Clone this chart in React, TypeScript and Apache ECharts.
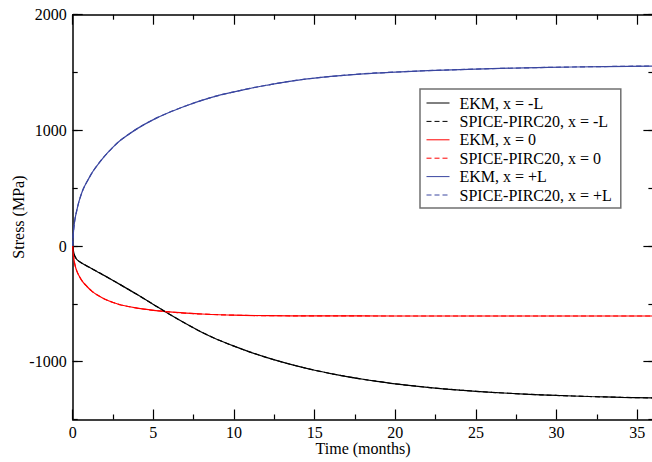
import { useEffect, useRef } from "react";
import * as echarts from "echarts";

// Time samples (months) and stress (MPa) for each probe position
const timeNeg = [0, 0.05, 0.12, 0.25, 0.5, 1, 1.5, 2, 3, 4, 5, 6, 7, 8, 9, 10, 11, 12, 13, 14, 15, 16, 17, 18, 19, 20, 22, 24, 26, 28, 30, 32, 34, 36];
const ekmNeg = [0, -45, -85, -115, -142, -182, -220, -258, -338, -420, -505, -590, -670, -745, -810, -866, -917, -963, -1004, -1041, -1074, -1103, -1129, -1152, -1172, -1192, -1222, -1246, -1265, -1280, -1292, -1301, -1308, -1313];
const spiceNeg = [0, -45, -85, -115, -142, -182, -220, -258, -338, -420, -505, -590, -670, -745, -810, -866, -917, -963, -1004, -1041, -1074, -1103, -1129, -1152, -1172, -1192, -1222, -1246, -1265, -1280, -1292, -1301, -1308, -1314];

const timeZero = [0, 0.03, 0.08, 0.15, 0.25, 0.4, 0.6, 0.9, 1.2, 1.5, 2, 2.5, 3, 4, 5, 6, 7, 8, 10, 12, 15, 20, 25, 30, 36];
const ekmZero = [0, -60, -120, -170, -215, -260, -305, -352, -392, -422, -460, -488, -510, -537, -556, -570, -580, -588, -598, -602, -604, -605, -605, -605, -605];
const spiceZero = [0, -60, -120, -170, -215, -260, -305, -352, -392, -422, -460, -488, -510, -537, -556, -570, -580, -588, -598, -602, -604, -605, -605, -605, -605];

const timePos = [0, 0.03, 0.08, 0.15, 0.25, 0.4, 0.66, 1, 1.3, 1.9, 2.5, 3, 4, 5, 6, 7, 8, 9, 10, 11, 12, 14, 16, 18, 20, 22, 25, 28, 31, 36];
const ekmPos = [0, 90, 170, 240, 305, 390, 495, 585, 655, 765, 855, 918, 1015, 1093, 1157, 1211, 1259, 1300, 1333, 1363, 1390, 1435, 1466, 1489, 1504, 1516, 1530, 1540, 1548, 1556];
const spicePos = [0, 90, 170, 240, 305, 390, 495, 585, 655, 765, 855, 918, 1015, 1093, 1157, 1211, 1259, 1300, 1333, 1363, 1390, 1435, 1466, 1489, 1504, 1516, 1530, 1540, 1548, 1557];

const seriesNames = [
  "EKM, x = -L",
  "SPICE-PIRC20, x = -L",
  "EKM, x = 0",
  "SPICE-PIRC20, x = 0",
  "EKM, x = +L",
  "SPICE-PIRC20, x = +L",
];

const yMajorTicks = [-1000, 0, 1000, 2000];

const FONT = "Liberation Serif";
const BLACK = "#000000";
const RED = "#ff0000";
const BLUE = "#3a46a0";

const pairs = (t: number[], v: number[]) => t.map((x, i) => [x, v[i]]);

export default function App() {
  const ref = useRef<HTMLDivElement>(null);

  useEffect(() => {
    if (!ref.current) return;
    const chart = echarts.init(ref.current, null, { renderer: "svg" });

    const axisLine = { onZero: false, lineStyle: { color: BLACK, width: 1.5 } };
    const tickLine = { color: BLACK, width: 1.2 };
    const labelStyle = { fontFamily: FONT, fontSize: 16, color: BLACK };

    const xBase = (position: "top" | "bottom", showLabel: boolean) => ({
      type: "value" as const,
      position,
      min: 0,
      max: 36,
      interval: 5,
      axisLine,
      axisTick: { inside: true, length: 10, lineStyle: tickLine },
      minorTick: { show: true, splitNumber: 2, length: 5, lineStyle: tickLine },
      splitLine: { show: false },
      minorSplitLine: { show: false },
      axisLabel: {
        show: showLabel,
        margin: 5,
        ...labelStyle,
        formatter: (v: number) => (v > 35 ? "" : String(v)),
      },
    });

    const yMinor = (position: "left" | "right", showLabel: boolean) => ({
      type: "value" as const,
      position,
      min: -1500,
      max: 2000,
      interval: 500,
      axisLine,
      axisTick: { inside: true, length: 5, lineStyle: tickLine },
      splitLine: { show: false },
      axisLabel: {
        show: showLabel,
        margin: 6,
        ...labelStyle,
        formatter: (v: number) => (v % 1000 === 0 ? String(v) : ""),
      },
    });

    const yMajor = (position: "left" | "right") => ({
      type: "value" as const,
      position,
      min: -1500,
      max: 2000,
      interval: 500,
      axisLine: { show: false, onZero: false },
      axisTick: { inside: true, length: 10, lineStyle: tickLine, customValues: yMajorTicks },
      axisLabel: { show: false },
      splitLine: { show: false },
    });

    const line = (name: string, t: number[], v: number[], color: string, dashed: boolean) => ({
      name,
      type: "line" as const,
      xAxisIndex: 0,
      yAxisIndex: 0,
      data: pairs(t, v),
      showSymbol: false,
      symbol: "none",
      smooth: 0.35,
      lineStyle: { color, width: 1.2, type: dashed ? [5, 3] : "solid" },
      itemStyle: { color },
      z: dashed ? 3 : 2,
    });

    chart.setOption({
      animation: false,
      backgroundColor: "#ffffff",
      grid: {
        left: 72.7,
        top: 14.7,
        width: 580.7,
        height: 404.8,
        containLabel: false,
        outerBoundsMode: "none",
      },
      xAxis: [
        {
          ...xBase("bottom", true),
          name: "Time (months)",
          nameLocation: "middle",
          nameGap: 21,
          nameMoveOverlap: false,
          nameTextStyle: labelStyle,
        },
        xBase("top", false),
      ],
      yAxis: [
        {
          ...yMinor("left", true),
          name: "Stress (MPa)",
          nameLocation: "middle",
          nameGap: 46,
          nameMoveOverlap: false,
          nameTextStyle: labelStyle,
        },
        yMajor("left"),
        yMinor("right", false),
        yMajor("right"),
      ],
      legend: {
        data: seriesNames,
        orient: "vertical",
        left: 420,
        top: 89,
        padding: [6, 9, 5, 6],
        itemWidth: 23,
        itemHeight: 12,
        itemGap: 2.4,
        backgroundColor: "#ffffff",
        borderColor: "#707070",
        borderWidth: 1.5,
        borderRadius: 0,
        selectedMode: false,
        itemStyle: { opacity: 0 },
        lineStyle: { width: 1 },
        textStyle: { ...labelStyle, lineHeight: 16, padding: [0, 0, 0, 5] },
      },
      series: [
        line(seriesNames[0], timeNeg, ekmNeg, BLACK, false),
        line(seriesNames[1], timeNeg, spiceNeg, BLACK, true),
        line(seriesNames[2], timeZero, ekmZero, RED, false),
        line(seriesNames[3], timeZero, spiceZero, RED, true),
        line(seriesNames[4], timePos, ekmPos, BLUE, false),
        line(seriesNames[5], timePos, spicePos, BLUE, true),
      ],
    });

    return () => chart.dispose();
  }, []);

  return (
    <div
      ref={ref}
      style={{ position: "fixed", left: 0, top: 0, width: 652, height: 462, background: "#fff" }}
    />
  );
}
